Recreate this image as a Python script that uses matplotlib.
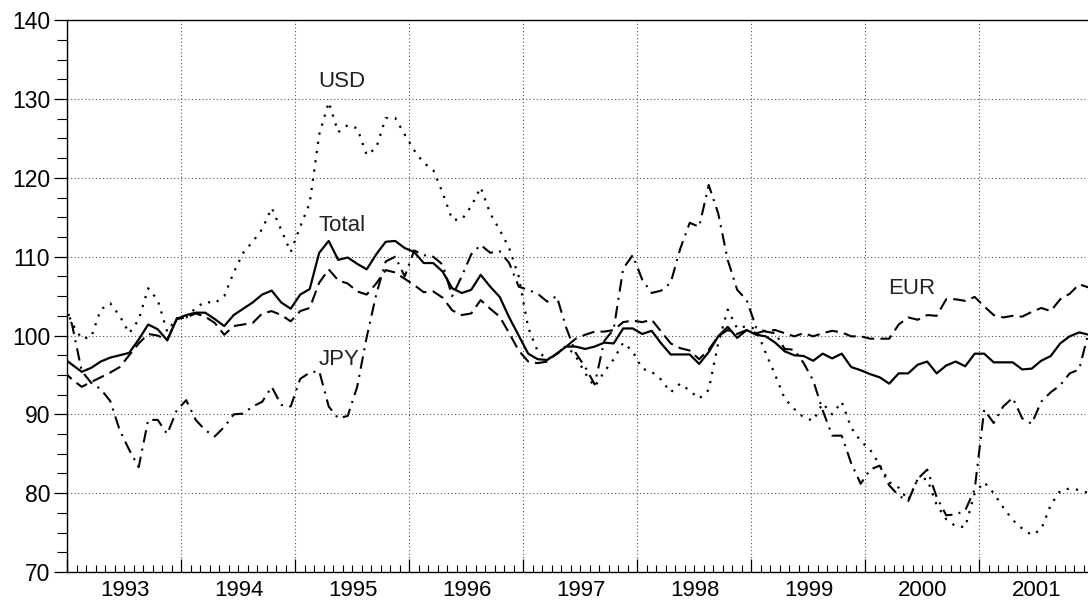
import matplotlib
matplotlib.use("Agg")
import matplotlib.pyplot as plt
import numpy as np
from matplotlib.ticker import MultipleLocator, FixedLocator, FuncFormatter, NullFormatter

plt.rcParams['font.family'] = ['Liberation Sans', 'DejaVu Sans']

# monthly index values, Dec 1992 .. Dec 2001 (one row per year, first value = Dec 1992)
total = [97.2,
         96.3, 95.4, 95.9, 96.7, 97.2, 97.5, 97.8, 99.5, 101.4, 100.8, 99.4, 102.1,
         102.6, 102.9, 102.9, 102.1, 101.2, 102.6, 103.4, 104.2, 105.2, 105.7, 104.2, 103.4,
         105.2, 105.9, 110.5, 112.0, 109.6, 109.9, 109.1, 108.4, 110.3, 111.9, 112.0, 111.1,
         110.6, 109.2, 109.2, 108.1, 106.0, 105.4, 105.8, 107.7, 106.2, 104.9, 102.3, 100.0,
         97.7, 97.0, 96.9, 97.7, 98.6, 98.6, 98.3, 98.6, 99.1, 99.0, 100.9, 100.9,
         100.2, 100.6, 99.0, 97.6, 97.6, 97.6, 96.4, 97.9, 99.9, 101.1, 99.7, 100.7,
         100.1, 99.9, 99.1, 98.0, 97.5, 97.4, 96.8, 97.7, 97.1, 97.7, 96.0, 95.6,
         95.1, 94.7, 93.9, 95.2, 95.2, 96.3, 96.7, 95.2, 96.2, 96.7, 96.1, 97.7,
         97.7, 96.6, 96.6, 96.6, 95.7, 95.8, 96.8, 97.4, 99.0, 99.9, 100.4, 100.1]

eur = [95.6,
       94.4, 93.5, 94.1, 94.7, 95.3, 96.0, 97.5, 99.0, 100.2, 100.0, 99.4, 102.1,
       102.3, 102.8, 102.4, 101.6, 100.1, 101.2, 101.4, 101.6, 102.8, 103.1, 102.6, 101.8,
       103.1, 103.5, 106.7, 108.4, 107.0, 106.6, 105.6, 105.2, 106.6, 108.3, 108.0, 107.2,
       106.4, 105.5, 105.6, 104.8, 103.2, 102.6, 102.8, 104.5, 103.4, 102.4, 100.3, 98.1,
       96.7, 96.5, 96.7, 97.7, 98.6, 99.6, 100.1, 100.5, 100.5, 100.7, 101.7, 101.9,
       101.7, 102.0, 100.5, 99.0, 98.4, 98.1, 97.0, 98.2, 99.9, 100.7, 100.2, 100.7,
       100.3, 100.6, 100.7, 100.3, 99.9, 100.3, 99.9, 100.3, 100.6, 100.4, 99.9, 99.9,
       99.6, 99.6, 99.6, 101.4, 102.3, 102.0, 102.6, 102.5, 104.6, 104.6, 104.4, 104.9,
       103.7, 102.6, 102.3, 102.5, 102.4, 103.0, 103.5, 103.1, 104.6, 105.3, 106.5, 106.1]

usd = [104.5,
       101.5, 99.6, 99.8, 103.3, 104.1, 102.5, 100.3, 102.0, 106.0, 104.5, 100.5, 102.2,
       102.3, 103.5, 104.3, 104.1, 105.0, 108.0, 110.5, 111.9, 113.5, 116.2, 113.4, 110.6,
       113.8, 116.8, 125.5, 129.6, 125.8, 126.7, 126.3, 122.9, 123.8, 127.6, 127.6, 125.5,
       123.5, 121.9, 121.0, 118.1, 114.7, 114.7, 116.4, 118.8, 115.5, 113.4, 111.1, 107.5,
       101.0, 98.0, 97.0, 97.6, 98.7, 97.4, 95.2, 93.5, 95.4, 97.0, 99.1, 98.0,
       95.8, 95.4, 94.4, 92.8, 93.9, 93.0, 92.0, 93.1, 99.0, 103.3, 100.9, 101.2,
       100.8, 97.8, 95.0, 92.0, 90.7, 89.6, 89.2, 91.4, 90.0, 91.6, 88.3, 86.6,
       85.5, 83.6, 81.4, 80.7, 79.1, 81.8, 81.8, 78.5, 76.7, 75.8, 75.7, 80.0,
       81.4, 80.0, 78.2, 76.6, 75.5, 74.7, 75.4, 78.5, 80.3, 80.6, 80.4, 80.0]

jpy = [105.0,
       101.3, 95.5, 94.0, 93.2, 91.7, 88.0, 85.5, 83.3, 89.3, 89.3, 87.5, 90.5,
       91.8, 89.3, 88.0, 87.2, 88.4, 90.0, 90.1, 91.0, 91.6, 93.5, 91.2, 91.0,
       94.5, 95.3, 95.5, 91.0, 89.5, 89.8, 93.5, 99.8, 105.2, 109.4, 110.0, 107.5,
       110.8, 110.2, 110.0, 109.0, 105.0, 107.5, 110.3, 111.5, 110.5, 110.7, 109.2, 106.2,
       105.8, 105.3, 104.3, 105.0, 101.0, 97.8, 96.0, 93.8, 99.3, 100.8, 108.5, 110.2,
       107.1, 105.4, 105.7, 106.7, 111.0, 114.3, 113.8, 119.1, 115.5, 109.6, 105.8, 104.5,
       101.0, 100.5, 100.3, 98.3, 98.2, 96.5, 94.3, 90.5, 87.3, 87.3, 83.8, 81.2,
       83.0, 83.5, 81.0, 79.7, 79.0, 81.8, 83.0, 79.5, 77.2, 77.3, 77.8, 80.5,
       90.6, 88.9, 91.0, 92.1, 89.5, 88.8, 91.6, 92.8, 93.7, 95.2, 95.7, 100.5]

years = list(range(1993, 2002))
labels = ["USD", "Total", "JPY", "EUR"]
label_pos = [(1995.2, 132.2), (1995.2, 114.0), (1995.2, 97.0), (2000.2, 106.0)]

# points sit mid-month
x = 1993 + (np.arange(-1, len(total) - 1) + 0.5) / 12

fig = plt.figure(figsize=(10.88, 6.03), dpi=100)
ax = fig.add_axes([0.062, 0.0514, 0.943, 0.915])

ax.plot(x, total, color='black', lw=1.6, ls='-')
ax.plot(x, eur, color='black', lw=1.5, ls=(0, (6, 3)))
ax.plot(x, usd, color='black', lw=1.6, ls=(0, (1, 3.2)))
ax.plot(x, jpy, color='black', lw=1.5, ls=(0, (6, 3, 1, 3)))

for txt, (tx, ty) in zip(labels, label_pos):
    ax.text(tx, ty, txt, fontsize=16, ha='left', va='center', color='#222222')

ax.set_xlim(1993, 2002)
ax.set_ylim(70, 140)

# x axis: year boundaries major, months minor, year label mid-year
ax.xaxis.set_major_locator(FixedLocator(years + [2002]))
ax.xaxis.set_major_formatter(NullFormatter())
ax.xaxis.set_minor_locator(FixedLocator([1993 + m / 12 for m in range(1, 108)]))
ax.xaxis.set_minor_formatter(FuncFormatter(
    lambda v, p: str(int(v)) if round(v * 12) % 12 == 6 else ""))
ax.tick_params(axis='x', which='major', direction='in', length=9.4, width=0.9)
ax.tick_params(axis='x', which='minor', direction='in', length=4.8, width=0.8,
               labelsize=16, pad=6)

ax.yaxis.set_major_locator(MultipleLocator(10))
ax.yaxis.set_minor_locator(MultipleLocator(2.5))
ax.tick_params(axis='y', which='major', direction='out', length=9.4, width=0.9,
               labelsize=16.5, pad=3)
ax.tick_params(axis='y', which='minor', direction='out', length=7.5, width=0.8)

ax.grid(True, which='major', axis='both', color='#555555', lw=0.8, ls=(0, (1, 2.2)))
ax.spines['right'].set_visible(False)
for s in ['left', 'bottom', 'top']:
    ax.spines[s].set_linewidth(1.0)

fig.savefig("out.png", dpi=100)
